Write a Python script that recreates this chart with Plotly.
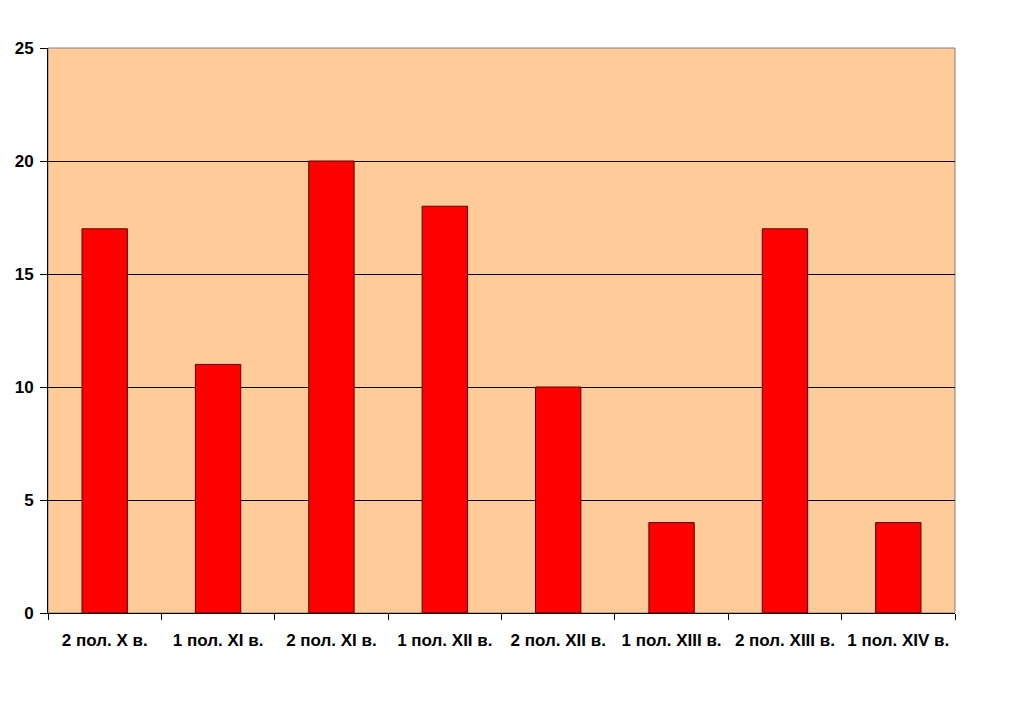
import plotly.graph_objects as go

categories = ["2 пол. X в.", "1 пол. XI в.", "2 пол. XI в.", "1 пол. XII в.",
              "2 пол. XII в.", "1 пол. XIII в.", "2 пол. XIII в.", "1 пол. XIV в."]
values = [17, 11, 20, 18, 10, 4, 17, 4]
y_ticks = [0, 5, 10, 15, 20, 25]

fig = go.Figure(go.Bar(
    x=categories, y=values,
    marker=dict(color="#FF0000", line=dict(color="#5a0000", width=1)),
    width=0.4,
))

tf = dict(family="Liberation Sans, Arial, sans-serif", size=17, color="black", weight="bold")
fig.update_layout(
    width=1020, height=701,
    paper_bgcolor="white", plot_bgcolor="#FFCC99",
    margin=dict(l=40, r=73, t=40, b=96),
    showlegend=False,
    font=tf,
    shapes=[dict(type="rect", xref="paper", yref="paper", x0=0, x1=1, y0=0, y1=1,
                 line=dict(color="#808080", width=1), layer="below")],
)
fig.update_xaxes(
    showline=True, linecolor="black", linewidth=1,
    ticks="outside", ticklen=6, tickcolor="black", tickson="boundaries",
    tickfont=tf, showgrid=False, ticklabelstandoff=12, automargin=False,
)
fig.update_yaxes(
    range=[0, 25], tickvals=y_ticks,
    showline=True, linecolor="black", linewidth=1,
    ticks="outside", ticklen=7, tickcolor="black",
    showgrid=True, gridcolor="black", gridwidth=1,
    zeroline=False, tickfont=tf, ticklabelstandoff=3, automargin=False,
)
fig.write_html("out.html")
